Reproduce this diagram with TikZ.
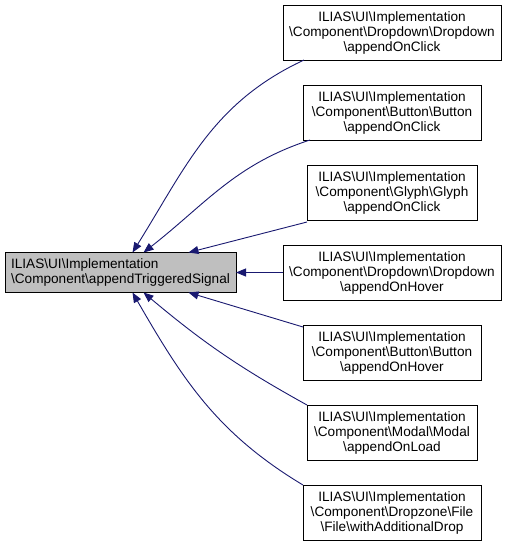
\documentclass[tikz,border=0pt]{standalone}
\usepackage{fontspec}
\setmainfont{Liberation Sans}
\usetikzlibrary{arrows.meta, positioning}
\definecolor{edgeblue}{HTML}{191970}
\newcommand{\bsl}{\textbackslash}

\begin{document}
\begin{tikzpicture}[x=1pt, y=-1pt, node distance = 25pt,
font=\fontsize{13.6}{15}\selectfont,
box/.style={draw, line width=0.9pt, inner sep=0pt, outer sep=0pt, minimum height=55pt, align=center},
edge/.style={draw=edgeblue, line width=0.9pt, -{Triangle[length=10pt, width=8pt]}}]

\useasboundingbox (0,0) rectangle (507,547);

\node [box, minimum width=218pt] (d1) at (392,32.5) {ILIAS\bsl UI\bsl Implementation\\\bsl Component\bsl Dropdown\bsl Dropdown\\\bsl appendOnClick};
\node [box, minimum width=178pt] (d2) [below=of d1] {ILIAS\bsl UI\bsl Implementation\\\bsl Component\bsl Button\bsl Button\\\bsl appendOnClick};
\node [box, minimum width=170pt] (d3) [below=of d2] {ILIAS\bsl UI\bsl Implementation\\\bsl Component\bsl Glyph\bsl Glyph\\\bsl appendOnClick};
\node [box, minimum width=218pt] (d4) [below=of d3] {ILIAS\bsl UI\bsl Implementation\\\bsl Component\bsl Dropdown\bsl Dropdown\\\bsl appendOnHover};
\node [box, minimum width=178pt] (d5) [below=of d4] {ILIAS\bsl UI\bsl Implementation\\\bsl Component\bsl Button\bsl Button\\\bsl appendOnHover};
\node [box, minimum width=170pt] (d6) [below=of d5] {ILIAS\bsl UI\bsl Implementation\\\bsl Component\bsl Modal\bsl Modal\\\bsl appendOnLoad};
\node [box, minimum width=178pt] (d7) [below=of d6] {ILIAS\bsl UI\bsl Implementation\\\bsl Component\bsl Dropzone\bsl File\\\bsl File\bsl withAdditionalDrop};

% the called function
\node [box, fill={rgb,255:red,191;green,191;blue,191}, align=left, minimum width=231pt, minimum height=40pt]
  (src) [left=47pt of d4] {ILIAS\bsl UI\bsl Implementation\\\bsl Component\bsl appendTriggeredSignal};

\path [edge] ([xshift=21pt]d1.south west) to [out=205, in=58] ([xshift=12pt]src.north);
\path [edge] ([xshift=7pt]d2.south west) to [out=198, in=38] ([xshift=23pt]src.north);
\path [edge] ([yshift=-2pt]d3.south west) -- ([xshift=68pt]src.north);
\path [edge] (d4.west) -- (src.east);
\path [edge] ([yshift=-2pt]d5.north west) -- ([xshift=68pt]src.south);
\path [edge] (d6.north west) to [out=151, in=-40] ([xshift=23pt]src.south);
\path [edge] (d7.north west) to [out=149, in=-60] ([xshift=12pt]src.south);

\end{tikzpicture}
\end{document}
